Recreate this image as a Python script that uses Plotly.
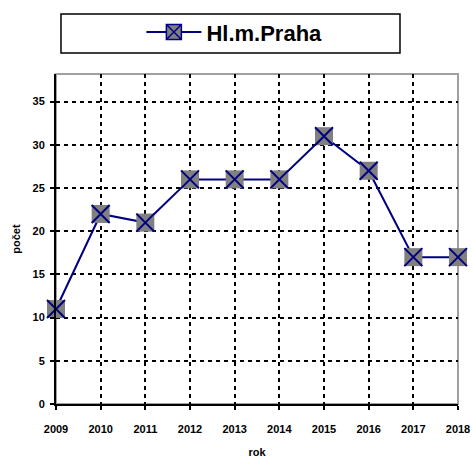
import plotly.graph_objects as go

SERIES_NAME = "Hl.m.Praha"
years = [2009, 2010, 2011, 2012, 2013, 2014, 2015, 2016, 2017, 2018]
counts = [11, 22, 21, 26, 26, 26, 31, 27, 17, 17]
y_ticks = [0, 5, 10, 15, 20, 25, 30, 35]

NAVY = "#000080"
GREY = "#808080"
FONT = "Liberation Sans, Arial, sans-serif"

fig = go.Figure()
# line + grey squares
fig.add_trace(go.Scatter(
    x=years, y=counts, mode="lines+markers", showlegend=False,
    line=dict(color=NAVY, width=2),
    marker=dict(symbol="square", size=18, color=GREY, line=dict(width=0)),
    cliponaxis=False,
))
# navy crosses over the squares
fig.add_trace(go.Scatter(
    x=years, y=counts, mode="markers", showlegend=False,
    marker=dict(symbol="x-thin-open", size=18, color=NAVY, line=dict(color=NAVY, width=2)),
    cliponaxis=False,
))
# legend entry only
fig.add_trace(go.Scatter(
    x=[None], y=[None], name=SERIES_NAME, mode="lines+markers",
    line=dict(color=NAVY, width=2),
    marker=dict(symbol="square-x", size=15, color=GREY, line=dict(color=NAVY, width=1.5)),
))

grid = dict(showgrid=True, gridcolor="black", gridwidth=1.5, griddash="4px,4px")
tickfont = dict(family=FONT, size=11, color="black", weight="bold")

fig.update_xaxes(
    range=[2009, 2018], tickvals=years, ticktext=[str(y) for y in years],
    showline=True, linecolor="black", linewidth=2,
    ticks="outside", ticklen=4, tickcolor="black", tickwidth=2,
    ticklabelstandoff=10, tickfont=tickfont, zeroline=False, automargin=False,
    title=dict(text="<b>rok</b>", font=dict(family=FONT, size=11, color="black"), standoff=14),
    **grid,
)
fig.update_yaxes(
    range=[0, 38.2], tickvals=y_ticks,
    showline=True, linecolor="black", linewidth=2,
    ticks="outside", ticklen=4, tickcolor="black", tickwidth=2,
    ticklabelstandoff=3, tickfont=tickfont, zeroline=False, automargin=False,
    title=dict(text="<b>počet</b>", font=dict(family=FONT, size=11, color="black"), standoff=10),
    **grid,
)

# grey frame on top/right of plot area, box around legend
fig.add_shape(type="rect", xref="paper", yref="paper", x0=0, x1=1, y0=0, y1=1,
              line=dict(color="#a0a0a0", width=2), layer="below")
fig.add_shape(type="rect", xref="paper", yref="paper", x0=0.0124, x1=0.8557, y0=1.064, y1=1.182,
              line=dict(color="black", width=1.5))

fig.update_layout(
    width=473, height=461,
    margin=dict(l=56, r=15, t=73, b=57),
    paper_bgcolor="white", plot_bgcolor="white",
    font=dict(family=FONT, color="black"),
    showlegend=True,
    legend=dict(x=0.2124, y=1.123, xanchor="left", yanchor="middle", itemwidth=55,
                orientation="h", bgcolor="rgba(0,0,0,0)", borderwidth=0,
                font=dict(family=FONT, size=22, color="black", weight="bold")),
)

# drop the default 8px page margin so the figure fills the window
fig.write_html("out.html", config={"displayModeBar": False},
               post_script="document.body.style.margin='0';document.body.style.overflow='hidden';")
